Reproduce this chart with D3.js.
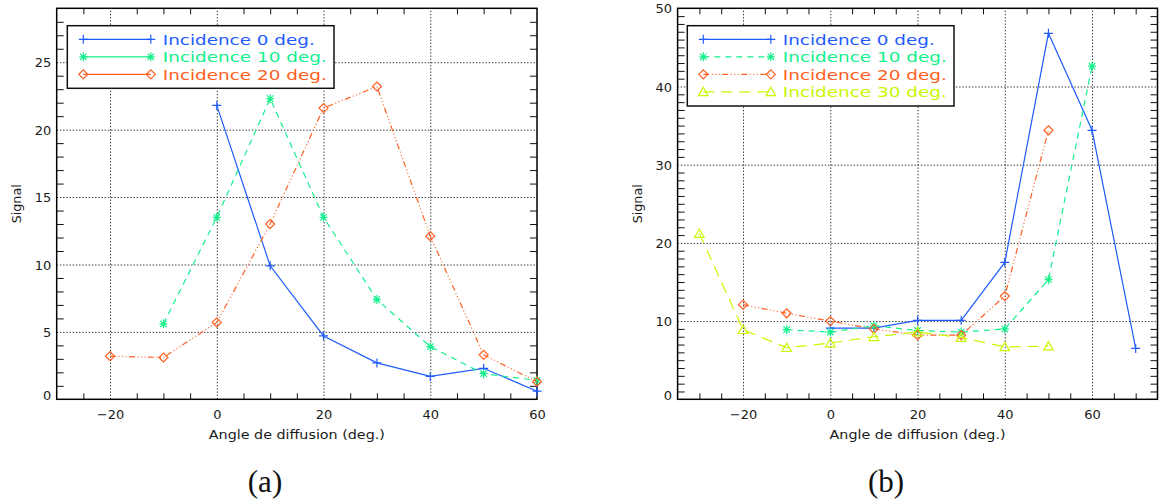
<!DOCTYPE html>
<html>
<head>
<meta charset="utf-8">
<script src="https://cdn.jsdelivr.net/npm/d3@7/dist/d3.min.js"></script>
<style>
  html, body { margin: 0; padding: 0; background: #ffffff; }
  svg { display: block; }
  .tick text { font-family: "DejaVu Sans", sans-serif; }
</style>
</head>
<body>
<svg id="chart" width="1161" height="502"></svg>
<script>
// ---------- DATA ----------
const seriesNames = ["Incidence 0 deg.", "Incidence 10 deg.", "Incidence 20 deg.", "Incidence 30 deg."];

// Panel (a)
const aInc0Angles  = [0, 10, 20, 30, 40, 50, 60];
const aInc0Signal  = [21.8, 9.9, 4.7, 2.7, 1.7, 2.3, 0.6];
const aInc10Angles = [-10, 0, 10, 20, 30, 40, 50, 60];
const aInc10Signal = [5.6, 13.5, 22.3, 13.5, 7.4, 3.9, 1.9, 1.4];
const aInc20Angles = [-20, -10, 0, 10, 20, 30, 40, 50, 60];
const aInc20Signal = [3.2, 3.1, 5.7, 13.0, 21.6, 23.2, 12.1, 3.3, 1.3];

// Panel (b)
const bInc0Angles  = [0, 10, 20, 30, 40, 50, 60, 70];
const bInc0Signal  = [9.1, 9.1, 10.1, 10.1, 17.5, 46.8, 34.4, 6.5];
const bInc10Angles = [-10, 0, 10, 20, 30, 40, 50, 60];
const bInc10Signal = [8.9, 8.6, 9.4, 8.8, 8.6, 9.0, 15.3, 42.6];
const bInc20Angles = [-20, -10, 0, 10, 20, 30, 40, 50];
const bInc20Signal = [12.1, 11.0, 10.0, 9.0, 8.2, 8.2, 13.2, 34.4];
const bInc30Angles = [-30, -20, -10, 0, 10, 20, 30, 40, 50];
const bInc30Signal = [21.2, 8.9, 6.6, 7.2, 8.0, 8.6, 7.9, 6.7, 6.8];

// Tick values
const xMajorTicks = [-20, 0, 20, 40, 60];
const aYMajorTicks = [0, 5, 10, 15, 20, 25];
const bYMajorTicks = [0, 10, 20, 30, 40, 50];

const xLabel = "Angle de diffusion (deg.)";
const yLabel = "Signal";
const captions = ["(a)", "(b)"];

// ---------- STYLES ----------
const colors = ["#1f5cff", "#14f08c", "#ff5f22", "#c8f800"];
const dashes = [null, "6,5", "6,2.5,1,2.5,1,2.5,1,2.5", "11,7"];
const symbols = ["plus", "star", "diamond", "triangle"];

function symbolPath(type) {
  switch (type) {
    case "plus": return "M-4.5,0H4.5M0,-4.5V4.5";
    case "star": return "M-4,0H4M0,-4.5V4.5M-3.2,-3.2L3.2,3.2M-3.2,3.2L3.2,-3.2";
    case "diamond": return "M0,-4.5L4.5,0L0,4.5L-4.5,0Z";
    case "triangle": return "M0,-4.5L4.8,3.8L-4.8,3.8Z";
  }
}

const svg = d3.select("#chart");
svg.append("rect").attr("width", 1161).attr("height", 502).attr("fill", "#fff");

function drawPanel(cfg) {
  const g = svg.append("g");
  const x = d3.scaleLinear().domain(cfg.xDomain).range([cfg.left, cfg.right]);
  const y = d3.scaleLinear().domain(cfg.yDomain).range([cfg.bottom, cfg.top]);
  const w = cfg.right - cfg.left, h = cfg.bottom - cfg.top;

  // grid lines (dotted) at inner major ticks
  const xGrid = xMajorTicks.filter(v => v > cfg.xDomain[0] && v < cfg.xDomain[1]);
  const yGrid = cfg.yMajor.filter(v => v > cfg.yDomain[0] && v < cfg.yDomain[1]);
  g.append("g").attr("transform", `translate(0,${cfg.bottom})`)
    .call(d3.axisBottom(x).tickValues(xGrid).tickSize(-h).tickFormat(""))
    .call(s => s.select(".domain").remove())
    .call(s => s.selectAll("line").attr("stroke", "#333").attr("stroke-dasharray", "1.4,1.8"));
  g.append("g").attr("transform", `translate(${cfg.left},0)`)
    .call(d3.axisLeft(y).tickValues(yGrid).tickSize(-w).tickFormat(""))
    .call(s => s.select(".domain").remove())
    .call(s => s.selectAll("line").attr("stroke", "#333").attr("stroke-dasharray", "1.4,1.8"));

  // minor ticks (inward)
  const xMinor = d3.range(Math.ceil(cfg.xDomain[0] / 5) * 5, cfg.xDomain[1] + 0.01, 5)
    .filter(v => !xGrid.includes(v) && v > cfg.xDomain[0] && v < cfg.xDomain[1]);
  const yMinor = d3.range(cfg.yDomain[0] + 1, cfg.yDomain[1], 1)
    .filter(v => !yGrid.includes(v));
  const tickStyle = s => { s.select(".domain").remove(); s.selectAll("line").attr("stroke", "#111").attr("stroke-width", 1); };
  g.append("g").attr("transform", `translate(0,${cfg.bottom})`)
    .call(d3.axisBottom(x).tickValues(xMinor).tickSize(-6).tickFormat("")).call(tickStyle);
  g.append("g").attr("transform", `translate(0,${cfg.top})`)
    .call(d3.axisTop(x).tickValues(xMinor).tickSize(-6).tickFormat("")).call(tickStyle);
  g.append("g").attr("transform", `translate(${cfg.left},0)`)
    .call(d3.axisLeft(y).tickValues(yMinor).tickSize(-7).tickFormat("")).call(tickStyle);
  g.append("g").attr("transform", `translate(${cfg.right},0)`)
    .call(d3.axisRight(y).tickValues(yMinor).tickSize(-7).tickFormat("")).call(tickStyle);

  // tick labels
  const fmt = v => (v < 0 ? "\u2212" + Math.abs(v) : String(v));
  g.append("g").attr("transform", `translate(0,${cfg.bottom})`)
    .call(d3.axisBottom(x).tickValues(xMajorTicks.filter(v => v >= cfg.xDomain[0] && v <= cfg.xDomain[1])).tickSize(0).tickFormat(fmt))
    .call(s => s.select(".domain").remove())
    .call(s => s.selectAll("text").attr("y", 20).attr("dy", null)
      .attr("font-size", 13).attr("fill", "#1a1a1a").attr("font-family", "DejaVu Sans, sans-serif"));
  g.append("g").attr("transform", `translate(${cfg.left},0)`)
    .call(d3.axisLeft(y).tickValues(cfg.yMajor).tickSize(0).tickFormat(fmt))
    .call(s => s.select(".domain").remove())
    .call(s => s.selectAll("text").attr("x", -5.5)
      .attr("dy", d => d === 0 ? "0.05em" : "0.36em")
      .attr("font-size", 13).attr("fill", "#1a1a1a").attr("font-family", "DejaVu Sans, sans-serif"));

  // frame
  g.append("rect").attr("x", cfg.left).attr("y", cfg.top).attr("width", w).attr("height", h)
    .attr("fill", "none").attr("stroke", "#000").attr("stroke-width", 1.5);

  // axis titles
  g.append("text").attr("x", (cfg.left + cfg.right) / 2).attr("y", 438.5)
    .attr("text-anchor", "middle").attr("font-family", "DejaVu Sans, sans-serif")
    .attr("font-size", 12.5).attr("fill", "#1a1a1a")
    .attr("textLength", 176).attr("lengthAdjust", "spacingAndGlyphs").text(xLabel);
  g.append("text").attr("transform", `translate(${cfg.left - 36},${(cfg.top + cfg.bottom) / 2}) rotate(-90)`)
    .attr("text-anchor", "middle").attr("font-family", "DejaVu Sans, sans-serif")
    .attr("font-size", 12.5).attr("fill", "#1a1a1a")
    .attr("textLength", 39).attr("lengthAdjust", "spacingAndGlyphs").text(yLabel);

  // series
  const line = d3.line().x(d => x(d[0])).y(d => y(d[1]));
  cfg.series.forEach((s, i) => {
    const pts = s.xs.map((v, k) => [v, s.ys[k]]);
    g.append("path").attr("d", line(pts)).attr("fill", "none")
      .attr("stroke", colors[i]).attr("stroke-width", 1.2)
      .attr("stroke-dasharray", dashes[i]);
    g.selectAll(null).data(pts).enter().append("path")
      .attr("transform", d => `translate(${x(d[0])},${y(d[1])})`)
      .attr("d", symbolPath(symbols[i]))
      .attr("fill", "none").attr("stroke", colors[i]).attr("stroke-width", 1.2);
  });

  // legend
  const L = cfg.legend;
  g.append("rect").attr("x", L.x0).attr("y", L.y0).attr("width", L.x1 - L.x0).attr("height", L.y1 - L.y0)
    .attr("fill", "#fff").attr("stroke", "#111").attr("stroke-width", 1.5);
  cfg.series.forEach((s, i) => {
    const ly = L.y0 + 13.6 + i * 17.5;
    const lx0 = L.x0 + 16, lx1 = L.x0 + 83.5;
    g.append("line").attr("x1", lx0).attr("x2", lx1).attr("y1", ly).attr("y2", ly)
      .attr("stroke", colors[i]).attr("stroke-width", 1.2)
      .attr("stroke-dasharray", cfg.legendDashed ? dashes[i] : null);
    [lx0, lx1].forEach(px => g.append("path").attr("transform", `translate(${px},${ly})`)
      .attr("d", symbolPath(symbols[i])).attr("fill", "none")
      .attr("stroke", colors[i]).attr("stroke-width", 1.2));
    const name = seriesNames[i];
    g.append("text").attr("x", L.x0 + 95.5).attr("y", ly + 5.2)
      .attr("font-family", "DejaVu Sans, sans-serif").attr("font-size", 14.8)
      .attr("fill", colors[i])
      .attr("textLength", name.length === 16 ? 152 : 164).attr("lengthAdjust", "spacingAndGlyphs")
      .text(name);
  });
}

drawPanel({
  id: "a", left: 56.7, right: 537, top: 8.3, bottom: 399.3,
  xDomain: [-30, 60], yDomain: [0, 29], yMajor: aYMajorTicks,
  legend: { x0: 67.3, y0: 25.7, x1: 334, y1: 88.3 }, legendDashed: false,
  series: [
    { xs: aInc0Angles, ys: aInc0Signal },
    { xs: aInc10Angles, ys: aInc10Signal },
    { xs: aInc20Angles, ys: aInc20Signal }
  ]
});

drawPanel({
  id: "b", left: 677.6, right: 1157.5, top: 8.3, bottom: 399.3,
  xDomain: [-35, 75], yDomain: [0, 50], yMajor: bYMajorTicks,
  legend: { x0: 687.3, y0: 25.7, x1: 954, y1: 106 }, legendDashed: true,
  series: [
    { xs: bInc0Angles, ys: bInc0Signal },
    { xs: bInc10Angles, ys: bInc10Signal },
    { xs: bInc20Angles, ys: bInc20Signal },
    { xs: bInc30Angles, ys: bInc30Signal }
  ]
});

// captions
[[265, captions[0]], [886, captions[1]]].forEach(([cx, t]) => {
  svg.append("text").attr("x", cx).attr("y", 492).attr("text-anchor", "middle")
    .attr("font-family", "Liberation Serif, serif").attr("font-size", 31).attr("fill", "#111")
    .text(t);
});
</script>
</body>
</html>
